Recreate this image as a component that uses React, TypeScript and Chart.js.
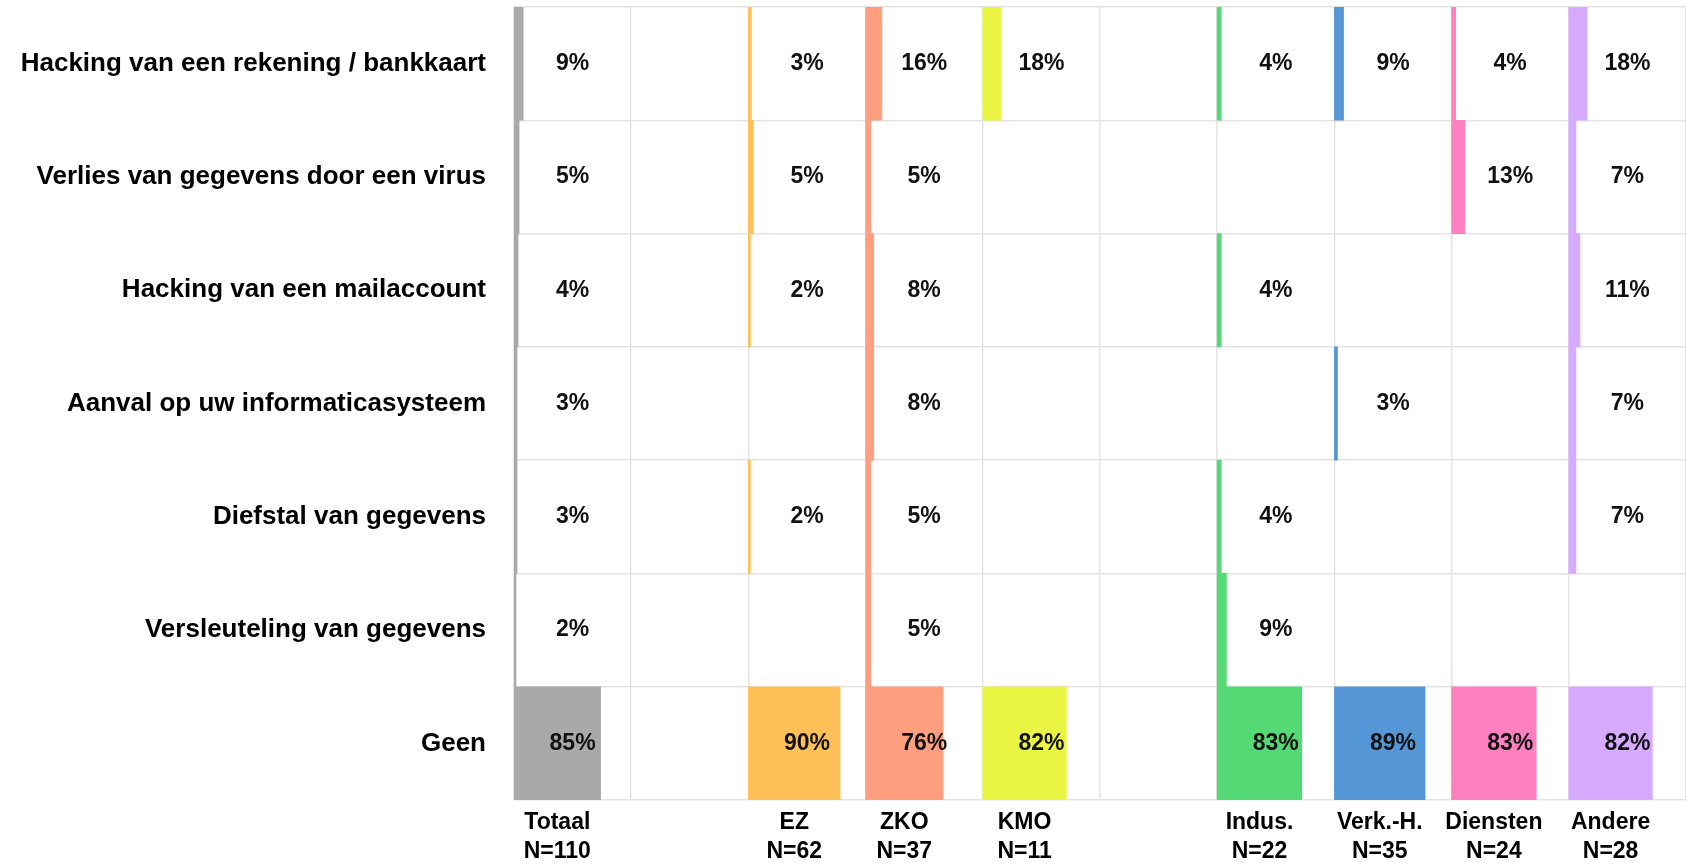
import { useEffect, useRef } from 'react';
import { Chart, registerables } from 'chart.js';

Chart.register(...registerables);

// Row categories (top to bottom)
const ROWS = [
  'Hacking van een rekening / bankkaart',
  'Verlies van gegevens door een virus',
  'Hacking van een mailaccount',
  'Aanval op uw informaticasysteem',
  'Diefstal van gegevens',
  'Versleuteling van gegevens',
  'Geen',
];

// Column groups (empty strings are spacer columns)
const COLUMNS = ['Totaal', '', 'EZ', 'ZKO', 'KMO', '', 'Indus.', 'Verk.-H.', 'Diensten', 'Andere'];
const COUNTS = [110, null, 62, 37, 11, null, 22, 35, 24, 28];
const COLORS = ['#a9a9a9', null, '#ffc057', '#ff9f80', '#eaf543', null, '#55d975', '#5597d6', '#ff80c0', '#d5aaff'];

// Series values (%) per column, in ROWS order; null = no value
const totaal = [9, 5, 4, 3, 3, 2, 85];
const ez = [3, 5, 2, null, 2, null, 90];
const zko = [16, 5, 8, 8, 5, 5, 76];
const kmo = [18, null, null, null, null, null, 82];
const indus = [4, null, 4, null, 4, 9, 83];
const verk = [9, null, null, 3, null, null, 89];
const diensten = [4, 13, null, null, null, null, 83];
const andere = [18, 7, 11, 7, 7, null, 82];

const SPAN = 115; // axis units per column (100% bar + gap)
const GEEN = 6;

export default function App() {
  const ref = useRef<HTMLCanvasElement>(null);

  useEffect(() => {
    if (!ref.current) return;
    const series: (Array<number | null> | null)[] = [totaal, null, ez, zko, kmo, null, indus, verk, diensten, andere];
    const datasets: any[] = [];
    const labelCols: number[] = [];
    series.forEach((vals, c) => {
      if (!vals) return;
      labelCols.push(c);
      datasets.push({
        label: COLUMNS[c],
        data: vals.map((v) => (v == null ? null : [c * SPAN, c * SPAN + v])),
        backgroundColor: COLORS[c],
        borderWidth: 0,
        grouped: false,
        barPercentage: 1,
        categoryPercentage: 1,
        xAxisID: 'x',
        yAxisID: 'y',
      });
    });

    const valueLabels = {
      id: 'valueLabels',
      afterDatasetsDraw(chart: any) {
        const ctx = chart.ctx;
        const xs = chart.scales.x;
        const ys = chart.scales.y;
        ctx.save();
        ctx.font = 'bold 23px "Liberation Sans", Arial, sans-serif';
        ctx.fillStyle = '#111';
        ctx.textAlign = 'center';
        ctx.textBaseline = 'middle';
        series.forEach((vals, c) => {
          if (!vals) return;
          vals.forEach((v, i) => {
            if (v == null) return;
            ctx.fillText(v + '%', xs.getPixelForValue(c * SPAN + SPAN / 2), ys.getPixelForValue(i));
          });
        });
        ctx.restore();
      },
    };

    const chart = new Chart(ref.current, {
      type: 'bar',
      data: { labels: ROWS, datasets },
      plugins: [valueLabels],
      options: {
        indexAxis: 'y',
        animation: false,
        responsive: true,
        maintainAspectRatio: false,
        layout: { padding: { top: 7, left: 0, right: 0, bottom: 0 } },
        plugins: { legend: { display: false }, tooltip: { enabled: false } },
        scales: {
          y: {
            type: 'category',
            position: 'left',
            grid: { color: '#e3e3e3', lineWidth: 1.5, drawTicks: false, offset: true },
            border: { display: false },
            ticks: {
              padding: 28,
              color: '#000',
              font: { family: '"Liberation Sans", Arial, sans-serif', size: 26, weight: 'bold' },
            },
            afterFit: (s: any) => {
              s.width = 514;
              s.paddingTop = 0;
              s.paddingBottom = 0;
            },
          },
          x: {
            type: 'linear',
            position: 'bottom',
            min: 0,
            max: COLUMNS.length * SPAN,
            grid: { display: false, drawTicks: false },
            border: { display: false },
            afterBuildTicks: (s: any) => {
              s.ticks = labelCols.map((c) => ({ value: c * SPAN + (series[c] as number[])[GEEN] / 2 }));
            },
            ticks: {
              autoSkip: false,
              maxRotation: 0,
              padding: 8,
              color: '#000',
              font: { family: '"Liberation Sans", Arial, sans-serif', size: 23, weight: 'bold', lineHeight: '29px' },
              callback: (_v: any, idx: number) => {
                const c = labelCols[idx];
                return [COLUMNS[c], 'N=' + COUNTS[c]];
              },
            },
            afterFit: (s: any) => {
              s.height = 65;
              s.paddingLeft = 0;
              s.paddingRight = 0;
            },
          },
          xg: {
            type: 'linear',
            position: 'top',
            min: 0,
            max: COLUMNS.length * SPAN,
            grid: { color: '#e3e3e3', lineWidth: 1.5, drawTicks: false },
            border: { display: false },
            ticks: { display: false },
            afterBuildTicks: (s: any) => {
              s.ticks = COLUMNS.map((_, i) => ({ value: i * SPAN })).concat([{ value: COLUMNS.length * SPAN }]);
            },
            afterFit: (s: any) => {
              s.height = 0;
              s.paddingLeft = 0;
              s.paddingRight = 0;
            },
          },
        },
      } as any,
    });

    return () => chart.destroy();
  }, []);

  return (
    <div style={{ position: 'absolute', left: 0, top: 0, width: 1686, height: 865, background: '#fff' }}>
      <canvas ref={ref} />
    </div>
  );
}
